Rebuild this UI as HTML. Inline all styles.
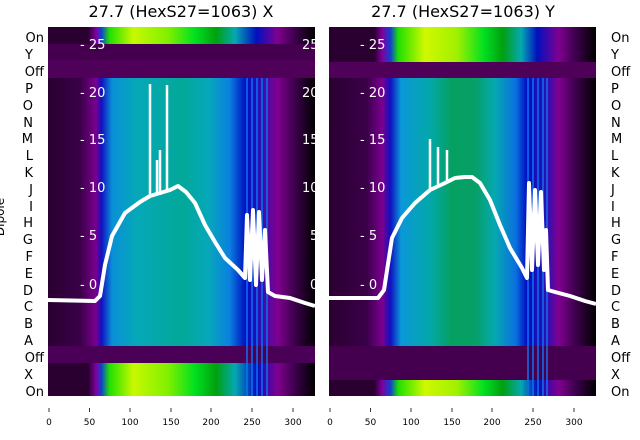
<!DOCTYPE html>
<html><head><meta charset="utf-8"><style>
html,body{margin:0;padding:0;background:#fff;}
svg{display:block;font-family:"DejaVu Sans","Liberation Sans",sans-serif;}
</style></head><body>
<svg width="640" height="440" viewBox="0 0 640 440" xmlns="http://www.w3.org/2000/svg">
<defs>
<linearGradient id="mainL" x1="48" x2="315" gradientUnits="userSpaceOnUse">
<stop offset="0" stop-color="#2a0030"/>
<stop offset="0.12" stop-color="#3a0048"/>
<stop offset="0.18" stop-color="#7a0090"/>
<stop offset="0.2" stop-color="#1010c0"/>
<stop offset="0.24" stop-color="#0a8fd8"/>
<stop offset="0.33" stop-color="#05a8b8"/>
<stop offset="0.5" stop-color="#02a898"/>
<stop offset="0.6" stop-color="#05a8b8"/>
<stop offset="0.68" stop-color="#0a80e0"/>
<stop offset="0.74" stop-color="#0010c0"/>
<stop offset="0.8" stop-color="#3010b0"/>
<stop offset="0.86" stop-color="#800090"/>
<stop offset="0.92" stop-color="#400050"/>
<stop offset="1" stop-color="#000000"/>
</linearGradient>
<linearGradient id="mainR" x1="329" x2="596" gradientUnits="userSpaceOnUse">
<stop offset="0" stop-color="#2a0030"/>
<stop offset="0.14" stop-color="#3a0048"/>
<stop offset="0.2" stop-color="#7a0090"/>
<stop offset="0.23" stop-color="#1010c0"/>
<stop offset="0.27" stop-color="#0a98d8"/>
<stop offset="0.38" stop-color="#03a8a8"/>
<stop offset="0.46" stop-color="#05a060"/>
<stop offset="0.55" stop-color="#06a068"/>
<stop offset="0.62" stop-color="#05a8b0"/>
<stop offset="0.7" stop-color="#0a70e0"/>
<stop offset="0.74" stop-color="#0010c0"/>
<stop offset="0.82" stop-color="#3010b0"/>
<stop offset="0.86" stop-color="#800090"/>
<stop offset="0.92" stop-color="#400050"/>
<stop offset="1" stop-color="#000000"/>
</linearGradient>
<linearGradient id="brightL" x1="48" x2="315" gradientUnits="userSpaceOnUse">
<stop offset="0" stop-color="#2a0030"/>
<stop offset="0.15" stop-color="#2a0030"/>
<stop offset="0.18" stop-color="#8000a0"/>
<stop offset="0.2" stop-color="#1040d0"/>
<stop offset="0.23" stop-color="#20e000"/>
<stop offset="0.32" stop-color="#c8f800"/>
<stop offset="0.45" stop-color="#80f000"/>
<stop offset="0.55" stop-color="#00e020"/>
<stop offset="0.63" stop-color="#00a010"/>
<stop offset="0.7" stop-color="#05a8b0"/>
<stop offset="0.78" stop-color="#0010c0"/>
<stop offset="0.86" stop-color="#800090"/>
<stop offset="0.92" stop-color="#400050"/>
<stop offset="1" stop-color="#000000"/>
</linearGradient>
<linearGradient id="brightR" x1="329" x2="596" gradientUnits="userSpaceOnUse">
<stop offset="0" stop-color="#2a0030"/>
<stop offset="0.17" stop-color="#2a0030"/>
<stop offset="0.2" stop-color="#8000a0"/>
<stop offset="0.23" stop-color="#1040d0"/>
<stop offset="0.26" stop-color="#20e000"/>
<stop offset="0.36" stop-color="#d0f800"/>
<stop offset="0.48" stop-color="#a0f000"/>
<stop offset="0.58" stop-color="#00e020"/>
<stop offset="0.65" stop-color="#00a010"/>
<stop offset="0.72" stop-color="#05a8b0"/>
<stop offset="0.78" stop-color="#0010c0"/>
<stop offset="0.86" stop-color="#800090"/>
<stop offset="0.92" stop-color="#400050"/>
<stop offset="1" stop-color="#000000"/>
</linearGradient>
</defs>

<rect x="48" y="27" width="267" height="369" fill="url(#mainL)"/>
<rect x="48" y="27" width="267" height="17" fill="url(#brightL)"/>
<rect x="48" y="44" width="267" height="34" fill="#44004e"/>
<rect x="48" y="60" width="267" height="18" fill="#4f0058"/>
<rect x="48" y="346" width="267" height="17" fill="#4a0056"/>
<rect x="48" y="363" width="267" height="33" fill="url(#brightL)"/>
<g stroke="#1070f0" stroke-width="1.5">
<line x1="247" y1="78" x2="247" y2="396"/><line x1="252" y1="78" x2="252" y2="396"/><line x1="257" y1="78" x2="257" y2="396"/><line x1="262" y1="78" x2="262" y2="396"/><line x1="267" y1="78" x2="267" y2="396"/>
</g>

<rect x="329" y="27" width="267" height="369" fill="url(#mainR)"/>
<rect x="329" y="27" width="267" height="35" fill="url(#brightR)"/>
<rect x="329" y="62" width="267" height="16" fill="#4f0058"/>
<rect x="329" y="346" width="267" height="34" fill="#44004e"/>
<rect x="329" y="380" width="267" height="16" fill="url(#brightR)"/>
<g stroke="#1070f0" stroke-width="1.5">
<line x1="528" y1="78" x2="528" y2="396"/><line x1="533" y1="78" x2="533" y2="396"/><line x1="538" y1="78" x2="538" y2="396"/><line x1="543" y1="78" x2="543" y2="396"/><line x1="547" y1="78" x2="547" y2="396"/>
</g>

<polyline fill="none" stroke="#fff" stroke-width="4" stroke-linejoin="round" points="48,300 95,301 100,296 105,265 112,236 125,213 140,202 150,196 160,193 170,190 178,186 186,192 195,203 205,225 215,242 225,258 238,270 245,278 247,215 250,280 253,210 256,285 259,212 262,280 265,230 268,292 275,296 290,298 305,303 315,306"/>
<g stroke="#fff" stroke-width="2.5">
<line x1="150" y1="196" x2="150" y2="84"/><line x1="167" y1="190" x2="167" y2="85"/><line x1="157" y1="195" x2="157" y2="160"/><line x1="160" y1="195" x2="160" y2="150"/>
</g>
<polyline fill="none" stroke="#fff" stroke-width="4" stroke-linejoin="round" points="329,298 378,298 384,290 392,238 402,218 415,203 430,190 445,183 455,178 465,177 472,177 480,183 490,200 500,225 510,248 522,268 527,278 529,183 532,270 535,190 538,265 541,192 544,270 546,230 548,290 555,292 570,296 585,301 596,304"/>
<g stroke="#fff" stroke-width="2.5">
<line x1="430" y1="190" x2="430" y2="139"/><line x1="438" y1="186" x2="438" y2="147"/><line x1="447" y1="183" x2="447" y2="150"/>
</g>

<g fill="#fff" font-size="13">
<text x="80" y="49">- 25</text><text x="80" y="97">- 20</text><text x="80" y="144">- 15</text><text x="80" y="192">- 10</text><text x="80" y="240">- 5</text><text x="80" y="289">- 0</text>
<text x="360" y="49">- 25</text><text x="360" y="97">- 20</text><text x="360" y="144">- 15</text><text x="360" y="192">- 10</text><text x="360" y="240">- 5</text><text x="360" y="289">- 0</text>
<text x="302" y="49">25</text><text x="302" y="97">20</text><text x="302" y="144">15</text><text x="302" y="192">10</text><text x="310" y="240">5</text><text x="310" y="289">0</text>
</g>
<rect x="315" y="27" width="14" height="369" fill="#fff"/>

<text x="181" y="17" font-size="16" text-anchor="middle" fill="#000">27.7 (HexS27=1063) X</text>
<text x="463" y="17" font-size="16" text-anchor="middle" fill="#000">27.7 (HexS27=1063) Y</text>

<g font-size="13" fill="#000">
<g text-anchor="end">
<text x="44" y="42">On</text><text x="33" y="59">Y</text><text x="44" y="76">Off</text><text x="33" y="93">P</text><text x="33" y="110">O</text><text x="33" y="127">N</text><text x="33" y="143">M</text><text x="33" y="160">L</text><text x="33" y="177">K</text><text x="33" y="194">J</text><text x="33" y="211">I</text><text x="33" y="227">H</text><text x="33" y="244">G</text><text x="33" y="261">F</text><text x="33" y="278">E</text><text x="33" y="295">D</text><text x="33" y="311">C</text><text x="33" y="328">B</text><text x="33" y="345">A</text><text x="44" y="362">Off</text><text x="33" y="379">X</text><text x="44" y="396">On</text>
</g>
<g>
<text x="611" y="42">On</text><text x="611" y="59">Y</text><text x="611" y="76">Off</text><text x="611" y="93">P</text><text x="611" y="110">O</text><text x="611" y="127">N</text><text x="611" y="143">M</text><text x="611" y="160">L</text><text x="611" y="177">K</text><text x="611" y="194">J</text><text x="611" y="211">I</text><text x="611" y="227">H</text><text x="611" y="244">G</text><text x="611" y="261">F</text><text x="611" y="278">E</text><text x="611" y="295">D</text><text x="611" y="311">C</text><text x="611" y="328">B</text><text x="611" y="345">A</text><text x="611" y="362">Off</text><text x="611" y="379">X</text><text x="611" y="396">On</text>
</g>
<text transform="translate(4,217) rotate(-90)" text-anchor="middle" font-size="12">Dipole</text>
</g>

<g stroke="#000" stroke-width="0.8">
<line x1="49" y1="408" x2="49" y2="412"/><line x1="89.5" y1="408" x2="89.5" y2="412"/><line x1="130" y1="408" x2="130" y2="412"/><line x1="171" y1="408" x2="171" y2="412"/><line x1="211" y1="408" x2="211" y2="412"/><line x1="252" y1="408" x2="252" y2="412"/><line x1="293" y1="408" x2="293" y2="412"/>
<line x1="330" y1="408" x2="330" y2="412"/><line x1="370.5" y1="408" x2="370.5" y2="412"/><line x1="411" y1="408" x2="411" y2="412"/><line x1="452" y1="408" x2="452" y2="412"/><line x1="492" y1="408" x2="492" y2="412"/><line x1="533" y1="408" x2="533" y2="412"/><line x1="574" y1="408" x2="574" y2="412"/>
</g>
<g font-size="9" text-anchor="middle" fill="#000">
<text x="49" y="425">0</text><text x="89.5" y="425">50</text><text x="130" y="425">100</text><text x="171" y="425">150</text><text x="211" y="425">200</text><text x="252" y="425">250</text><text x="293" y="425">300</text>
<text x="330" y="425">0</text><text x="370.5" y="425">50</text><text x="411" y="425">100</text><text x="452" y="425">150</text><text x="492" y="425">200</text><text x="533" y="425">250</text><text x="574" y="425">300</text>
</g>
</svg>
</body></html>
